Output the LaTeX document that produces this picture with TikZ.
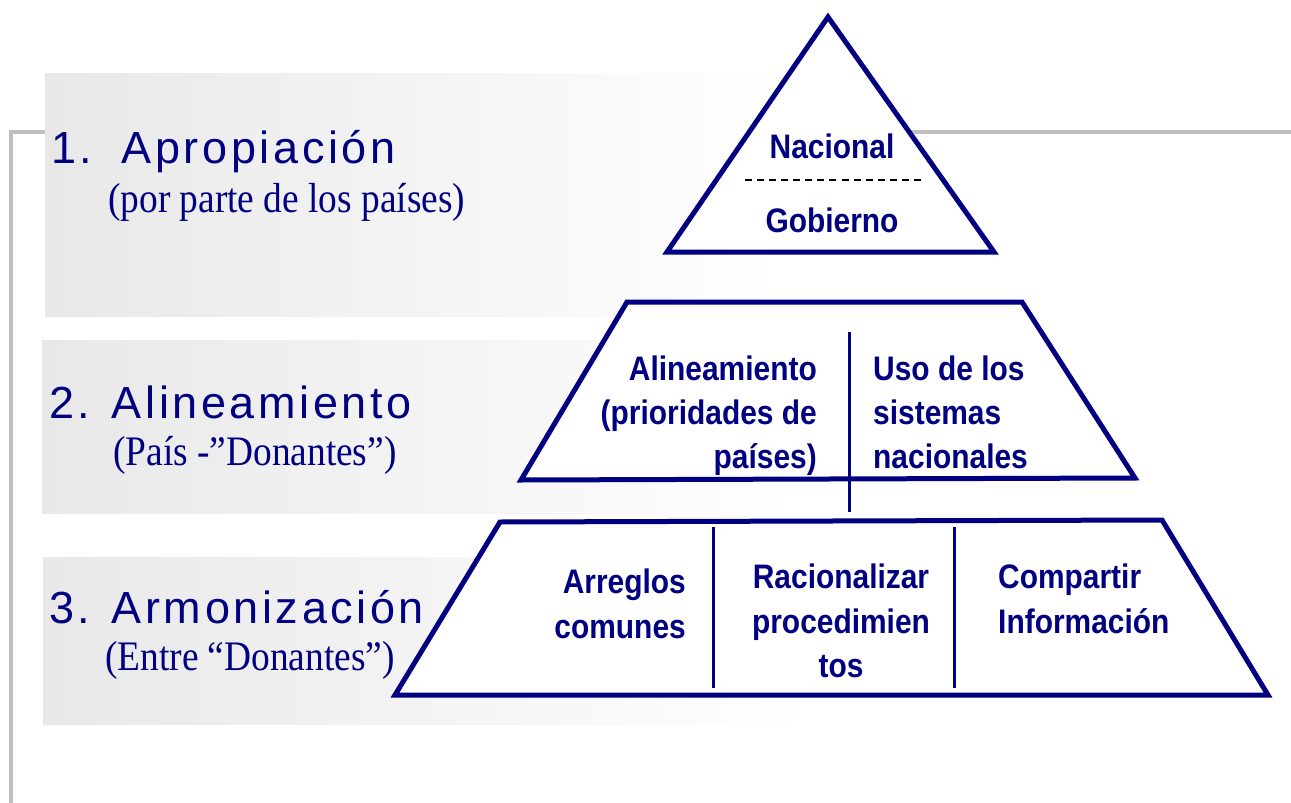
\documentclass[tikz,border=0pt]{standalone}
\usepackage{fontspec}
\newfontfamily\headfont[LetterSpace=8]{Liberation Sans}
\newfontfamily\subfont[FakeStretch=0.89]{Liberation Serif}
\newfontfamily\pyrfont[FakeStretch=0.88]{Liberation Sans Bold}
\definecolor{navy}{HTML}{000080}
\definecolor{framegray}{HTML}{C0C0C0}
\definecolor{bandgray}{HTML}{E8E8E8}
\begin{document}
\begin{tikzpicture}[x=1pt,y=-1pt,
  head/.style={anchor=base west, inner sep=0pt, text=navy, font=\headfont\fontsize{45}{45}\selectfont},
  sub/.style={anchor=base west, inner sep=0pt, text=navy, font=\subfont\fontsize{42}{42}\selectfont},
  pyr/.style={inner sep=0pt, text=navy, font=\pyrfont\fontsize{34}{44}\selectfont},
  outline/.style={draw=navy, line width=5pt, fill=white},
  divider/.style={draw=navy, line width=3pt},
  band/.style={left color=bandgray, right color=white},
  frame/.style={draw=framegray, line width=4pt}]
\useasboundingbox (0,0) rectangle (1291,803);
\fill[white] (0,0) rectangle (1291,803);
% frame
\coordinate (fR) at (1291,132);
\coordinate (fC) at (11,132);
\coordinate (fB) at (11,803);
\draw[frame] (fR) -- (fC) -- (fB);
% bands
\fill[band] (45,73) rectangle (780,316);
\fill[band] (42,340) rectangle (800,513);
\fill[band] (43,557) rectangle (810,724);
% triangle
\coordinate (tA) at (828,17);
\coordinate (tL) at (667,252);
\coordinate (tR) at (994,252);
\draw[outline] (tA) -- (tR) -- (tL) -- cycle;
\coordinate (dL) at (745,180);
\coordinate (dR) at (921,180);
\draw[black, line width=1.5pt, dash pattern=on 7pt off 5.07pt] (dL) -- (dR);
% trapezoid 2
\coordinate (m1) at (627,302);
\coordinate (m2) at (1022,302);
\coordinate (m3) at (1135,478);
\coordinate (m4) at (521,480);
\draw[outline] (m1) -- (m2) -- (m3) -- (m4) -- cycle;
\coordinate (mv1) at (849,332);
\coordinate (mv2) at (849,512);
\draw[divider] (mv1) -- (mv2);
% trapezoid 3
\coordinate (b1) at (500,522);
\coordinate (b2) at (1162,520);
\coordinate (b3) at (1268,695);
\coordinate (b4) at (395,695);
\draw[outline] (b1) -- (b2) -- (b3) -- (b4) -- cycle;
\coordinate (bv1) at (713,527);
\coordinate (bv2) at (713,688);
\coordinate (bw1) at (954,527);
\coordinate (bw2) at (954,688);
\draw[divider] (bv1) -- (bv2);
\draw[divider] (bw1) -- (bw2);
% headings
\node[head] (h1) at (51,163) {1.\hspace{8pt} Apropiación};
\node[sub] (s1) at (108,212) {(por parte de los países)};
\node[head] (h2) at (49,418) {2. Alineamiento};
\node[sub] (s2) at (113,465) {(País -”Donantes”)};
\node[head] (h3) at (49,623) {3. Armonización};
\node[sub] (s3) at (105,670) {(Entre “Donantes”)};
% pyramid texts
\node[pyr, anchor=base] (nac) at (832,158) {Nacional};
\node[pyr, anchor=base] (gob) at (832,232) {Gobierno};
\node[pyr, anchor=base east] (al1) at (817,380) {Alineamiento};
\node[pyr, anchor=base east] (al2) at (817,424) {(prioridades de};
\node[pyr, anchor=base east] (al3) at (817,468) {países)};
\node[pyr, anchor=base west] (us1) at (873,380) {Uso de los};
\node[pyr, anchor=base west] (us2) at (873,424) {sistemas};
\node[pyr, anchor=base west] (us3) at (873,468) {nacionales};
\node[pyr, anchor=base east] (ar1) at (686,593) {Arreglos};
\node[pyr, anchor=base east] (ar2) at (686,638) {comunes};
\node[pyr, anchor=base] (ra1) at (841,588) {Racionalizar};
\node[pyr, anchor=base] (ra2) at (841,633) {procedimien};
\node[pyr, anchor=base] (ra3) at (841,677) {tos};
\node[pyr, anchor=base west] (co1) at (998,588) {Compartir};
\node[pyr, anchor=base west] (co2) at (998,633) {Información};
\end{tikzpicture}
\end{document}
